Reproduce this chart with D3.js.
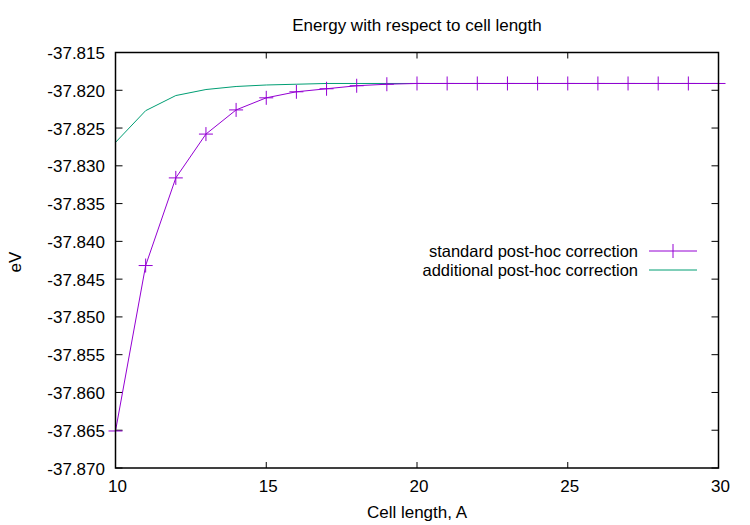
<!DOCTYPE html>
<html><head><meta charset="utf-8">
<script src="https://cdn.jsdelivr.net/npm/d3@7"></script>
<style>body{margin:0;background:#fff}svg{display:block}text{font-family:"Liberation Sans",Arial,sans-serif;fill:#000}</style>
</head><body><svg id="c" width="750" height="525"></svg>
<script>
const cellLength = [10,11,12,13,14,15,16,17,18,19,20,21,22,23,24,25,26,27,28,29,30];
const standardCorr = [-37.8651,-37.8432,-37.8316,-37.8258,-37.8226,-37.8210,-37.8202,-37.8198,-37.8194,-37.8192,-37.8191,-37.8191,-37.8191,-37.8191,-37.8191,-37.8191,-37.8191,-37.8191,-37.8191,-37.8191,-37.8191];
const additionalCorr = [-37.8269,-37.8227,-37.8207,-37.8199,-37.8195,-37.8193,-37.8192,-37.8191,-37.8191,-37.8191,-37.8191,-37.8191,-37.8191,-37.8191,-37.8191,-37.8191,-37.8191,-37.8191,-37.8191,-37.8191,-37.8191];
const xTicks = [10,15,20,25,30];
const yTicks = [-37.870,-37.865,-37.860,-37.855,-37.850,-37.845,-37.840,-37.835,-37.830,-37.825,-37.820,-37.815];
const seriesNames = ["standard post-hoc correction","additional post-hoc correction"];
const colors = ["#9400d3","#009e73"];

const svg = d3.select("#c");
const L=115.5,R=718.5,T=52.5,B=468;
const x = d3.scaleLinear().domain([10,30]).range([L,R]);
const y = d3.scaleLinear().domain([-37.870,-37.815]).range([B,T]);

const fs=17;
const g = svg.append("g").attr("stroke","#000").attr("stroke-width",1);
xTicks.forEach(t=>{
  g.append("line").attr("x1",x(t)).attr("x2",x(t)).attr("y1",B).attr("y2",B-6);
  g.append("line").attr("x1",x(t)).attr("x2",x(t)).attr("y1",T).attr("y2",T+6);
});
yTicks.forEach(t=>{
  g.append("line").attr("x1",L).attr("x2",L+7).attr("y1",y(t)).attr("y2",y(t));
  g.append("line").attr("x1",R).attr("x2",R-7).attr("y1",y(t)).attr("y2",y(t));
});
xTicks.forEach(t=>svg.append("text").attr("x",x(t)+2).attr("y",B+24).attr("text-anchor","middle").attr("font-size",fs).text(t));
yTicks.forEach(t=>svg.append("text").attr("x",L-10.5).attr("y",y(t)+6.5).attr("text-anchor","end").attr("font-size",fs).text(t.toFixed(3)));

const line = d3.line().x((d,i)=>x(cellLength[i])).y(d=>y(d));
svg.append("path").attr("d",line(additionalCorr)).attr("fill","none").attr("stroke",colors[1]).attr("stroke-width",1);
svg.append("path").attr("d",line(standardCorr)).attr("fill","none").attr("stroke",colors[0]).attr("stroke-width",1);
const m=7;
standardCorr.forEach((v,i)=>{
  const cx=x(cellLength[i]), cy=y(v);
  svg.append("path").attr("d",`M${cx-m},${cy}H${cx+m}M${cx},${cy-m}V${cy+m}`).attr("stroke",colors[0]).attr("stroke-width",1).attr("fill","none");
});

svg.append("rect").attr("x",L).attr("y",T).attr("width",R-L).attr("height",B-T).attr("fill","none").attr("stroke","#000").attr("stroke-width",1.5);

const lx1=649,lx2=697,ly=[251,270];
const lfs=16.5;
seriesNames.forEach((n,i)=>{
  svg.append("text").attr("x",638).attr("y",ly[i]+6).attr("text-anchor","end").attr("font-size",lfs).text(n);
  svg.append("line").attr("x1",lx1).attr("x2",lx2).attr("y1",ly[i]).attr("y2",ly[i]).attr("stroke",colors[i]).attr("stroke-width",1);
});
const lc=(lx1+lx2)/2;
svg.append("path").attr("d",`M${lc},${ly[0]-m}V${ly[0]+m}`).attr("stroke",colors[0]).attr("stroke-width",1);

svg.append("text").attr("x",417).attr("y",31).attr("text-anchor","middle").attr("font-size",fs).text("Energy with respect to cell length");
svg.append("text").attr("x",417).attr("y",518).attr("text-anchor","middle").attr("font-size",fs).text("Cell length, A");
svg.append("text").attr("transform","translate(21,262) rotate(-90)").attr("text-anchor","middle").attr("font-size",fs).text("eV");
</script></body></html>
